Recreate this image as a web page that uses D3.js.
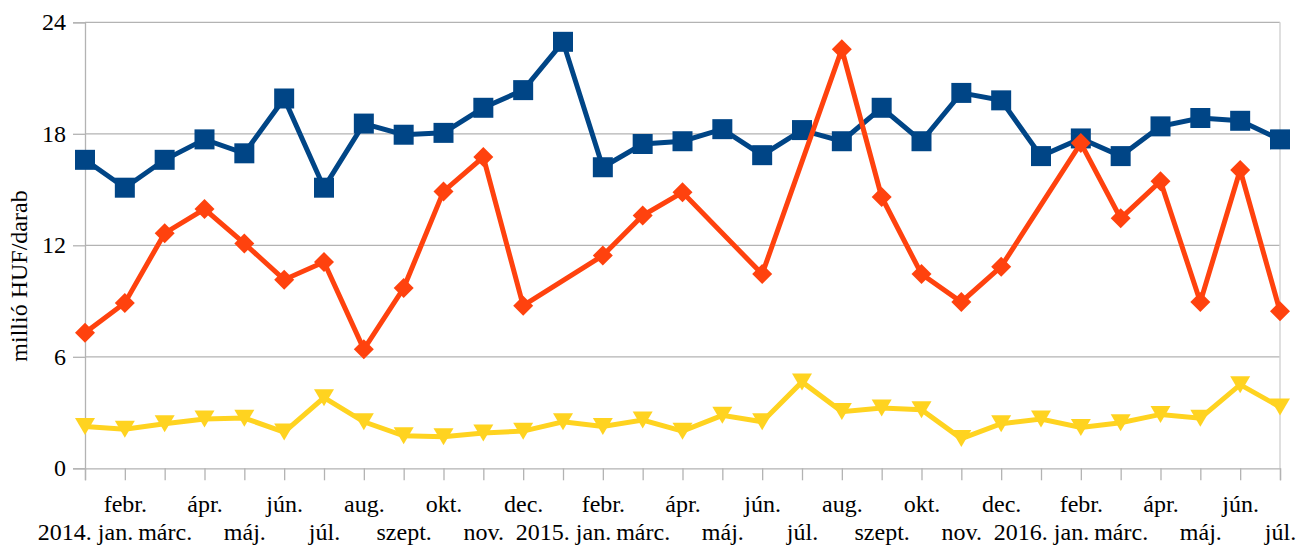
<!DOCTYPE html>
<html>
<head>
<meta charset="utf-8">
<script src="https://cdn.jsdelivr.net/npm/d3@7"></script>
<style>
  html, body { margin: 0; padding: 0; background: #fff; }
</style>
</head>
<body>
<svg id="chart" width="1296" height="548"></svg>
<script>
// month labels, 2014 jan .. 2016 júl
const months = [
  '2014. jan.', 'febr.', 'márc.', 'ápr.', 'máj.', 'jún.', 'júl.', 'aug.', 'szept.', 'okt.', 'nov.', 'dec.',
  '2015. jan.', 'febr.', 'márc.', 'ápr.', 'máj.', 'jún.', 'júl.', 'aug.', 'szept.', 'okt.', 'nov.', 'dec.',
  '2016. jan.', 'febr.', 'márc.', 'ápr.', 'máj.', 'jún.', 'júl.'
]
const blueValues = [16.6, 15.1, 16.6, 17.7, 16.95, 19.9, 15.1, 18.55, 17.95, 18.05, 19.4, 20.35,
  22.95, 16.2, 17.45, 17.6, 18.25, 16.85, 18.2, 17.6, 19.4, 17.6, 20.2, 19.8,
  16.8, 17.75, 16.8, 18.4, 18.85, 18.7, 17.7]
const orangeValues = [7.3, 8.9, 12.65, 13.95, 12.1, 10.15, 11.1, 6.4, 9.7, 14.9, 16.75, 8.75,
  null, 11.45, 13.6, 14.85, null, 10.45, null, 22.55, 14.6, 10.45, 8.95, 10.85,
  null, 17.5, 13.45, 15.45, 8.95, 16.05, 8.45]
const yellowValues = [2.25, 2.1, 2.4, 2.65, 2.7, 1.95, 3.8, 2.5, 1.75, 1.7, 1.9, 2.0,
  2.5, 2.25, 2.6, 2.0, 2.85, 2.5, 4.65, 3.05, 3.25, 3.15, 1.6, 2.4,
  2.65, 2.2, 2.45, 2.9, 2.7, 4.5, 3.3]
const yTicks = [0, 6, 12, 18, 24]
const yTitle = 'millió HUF/darab'

const plotLeft = 85
const plotRight = 1280
const plotTop = 22.3
const plotBottom = 468.3
const serif = '"Liberation Serif", "Times New Roman", serif'

const svg = d3.select('#chart')

const x = d3.scalePoint()
  .domain(d3.range(months.length))
  .range([plotLeft, plotRight])
const y = d3.scaleLinear()
  .domain([0, 24])
  .range([plotBottom, plotTop])

// grid
svg.append('g')
  .selectAll('line')
  .data(yTicks.filter(d => d > 0))
  .enter()
  .append('line')
    .attr('x1', plotLeft)
    .attr('x2', plotRight)
    .attr('y1', d => y(d))
    .attr('y2', d => y(d))
    .attr('stroke', '#b3b3b3')
    .attr('stroke-width', 1.3)

// right border
svg.append('line')
  .attr('x1', plotRight).attr('x2', plotRight)
  .attr('y1', y(24)).attr('y2', y(0))
  .attr('stroke', '#d4d4d4')
  .attr('stroke-width', 1.5)

// y axis
const yAxis = d3.axisLeft(y)
  .tickValues(yTicks)
  .tickSize(12)
  .tickPadding(7)
svg.append('g')
  .attr('transform', `translate(${plotLeft},0)`)
  .call(yAxis)
  .attr('font-family', null)
  .attr('font-size', null)
  .call(g => g.select('.domain').attr('stroke', '#b3b3b3').attr('stroke-width', 1.3))
  .call(g => g.selectAll('.tick line').attr('stroke', '#b3b3b3').attr('stroke-width', 1.3))
  .call(g => g.selectAll('.tick text')
    .style('font-family', serif)
    .style('font-size', '24px')
    .attr('fill', '#000'))

// x axis
const xAxis = d3.axisBottom(x)
  .tickSize(12)
  .tickFormat(i => months[i])
svg.append('g')
  .attr('transform', `translate(0,${plotBottom})`)
  .call(xAxis)
  .attr('font-family', null)
  .attr('font-size', null)
  .call(g => g.select('.domain').attr('stroke', '#b3b3b3').attr('stroke-width', 1.3))
  .call(g => g.selectAll('.tick line').attr('stroke', '#b3b3b3').attr('stroke-width', 1.3))
  .call(g => g.selectAll('.tick text')
    .style('font-family', serif)
    .style('font-size', '24px')
    .attr('fill', '#000')
    .attr('dy', 0)
    .attr('y', (d, i) => i % 2 === 1 ? 43.5 : 71.5))

// y title
svg.append('text')
  .attr('transform', 'translate(27,276) rotate(-90)')
  .attr('text-anchor', 'middle')
  .style('font-family', serif)
  .style('font-size', '24px')
  .text(yTitle)

// marker shapes
const squareType = {
  draw (ctx, size) {
    const h = Math.sqrt(size) / 2
    ctx.rect(-h, -h, h * 2, h * 2)
  }
}
const diamondType = {
  draw (ctx, size) {
    const h = Math.sqrt(size) / 2
    ctx.moveTo(0, -h)
    ctx.lineTo(h, 0)
    ctx.lineTo(0, h)
    ctx.lineTo(-h, 0)
    ctx.closePath()
  }
}
const triangleDownType = {
  draw (ctx, size) {
    const h = Math.sqrt(size) / 2
    ctx.moveTo(-h, -h * 0.85)
    ctx.lineTo(h, -h * 0.85)
    ctx.lineTo(0, h * 0.85)
    ctx.closePath()
  }
}

const series = [
  { values: blueValues, color: '#004586', type: squareType, size: 20 * 20 },
  { values: orangeValues, color: '#ff420e', type: diamondType, size: 20 * 20 },
  { values: yellowValues, color: '#ffd320', type: triangleDownType, size: 20 * 20 }
]

const line = d3.line()
  .x(d => x(d.i))
  .y(d => y(d.v))

series.forEach(s => {
  const pts = s.values
    .map((v, i) => ({ i, v }))
    .filter(d => d.v != null)
  const g = svg.append('g')

  g.append('path')
    .datum(pts)
    .attr('fill', 'none')
    .attr('stroke', s.color)
    .attr('stroke-width', 5)
    .attr('stroke-linejoin', 'miter')
    .attr('d', line)

  g.selectAll('.marker')
    .data(pts)
    .enter()
    .append('path')
      .attr('class', 'marker')
      .attr('transform', d => `translate(${x(d.i)},${y(d.v)})`)
      .attr('fill', s.color)
      .attr('d', d3.symbol().type(s.type).size(s.size))
})
</script>
</body>
</html>
